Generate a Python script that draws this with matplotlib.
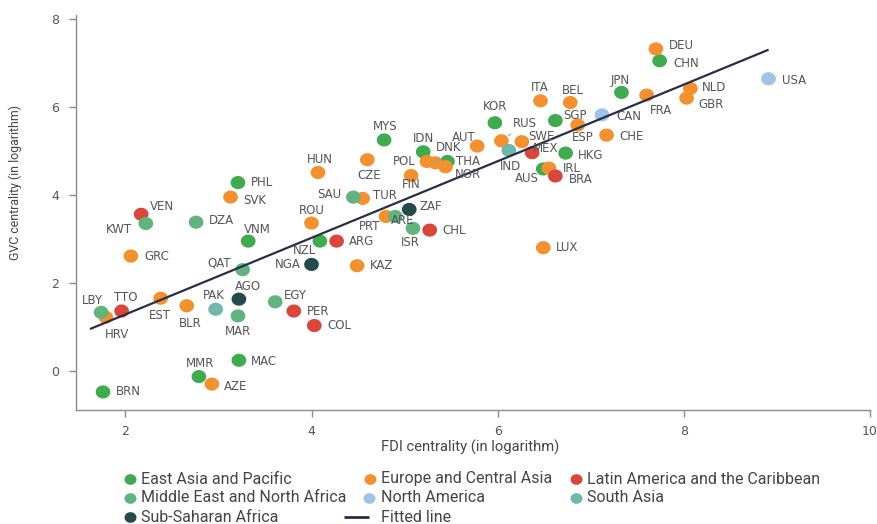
import numpy as np
import matplotlib
matplotlib.use("Agg")
import matplotlib.pyplot as plt
from matplotlib.lines import Line2D
from matplotlib.path import Path

# ---- data: FDI centrality (x) and GVC centrality (y), both in logarithm ----
regions = [
    "East Asia and Pacific",
    "Europe and Central Asia",
    "Latin America and the Caribbean",
    "Middle East and North Africa",
    "North America",
    "South Asia",
    "Sub-Saharan Africa",
]

eap_codes = ["CHN", "JPN", "KOR", "SGP", "HKG", "AUS", "MYS", "IDN", "THA", "PHL",
             "VNM", "NZL", "MMR", "MAC", "BRN"]
eap_fdi = [7.74, 7.33, 5.97, 6.62, 6.73, 6.49, 4.78, 5.20, 5.46, 3.21,
           3.32, 4.09, 2.79, 3.22, 1.76]
eap_gvc = [7.05, 6.33, 5.64, 5.69, 4.95, 4.59, 5.25, 4.98, 4.76, 4.28,
           2.95, 2.95, -0.13, 0.24, -0.48]

eca_codes = ["DEU", "NLD", "GBR", "FRA", "ITA", "BEL", "ESP", "CHE", "RUS", "SWE",
             "AUT", "DNK", "POL", "NOR", "IRL", "CZE", "FIN", "HUN", "SVK", "TUR",
             "ROU", "PRT", "GRC", "KAZ", "LUX", "EST", "BLR", "HRV", "AZE"]
eca_fdi = [7.70, 8.07, 8.03, 7.60, 6.46, 6.78, 6.86, 7.17, 6.04, 6.26,
           5.78, 5.33, 5.24, 5.44, 6.55, 4.60, 5.07, 4.07, 3.13, 4.55,
           4.00, 4.80, 2.06, 4.49, 6.49, 2.38, 2.66, 1.79, 2.93]
eca_gvc = [7.32, 6.42, 6.20, 6.27, 6.14, 6.10, 5.59, 5.36, 5.23, 5.21,
           5.11, 4.73, 4.76, 4.64, 4.61, 4.80, 4.44, 4.51, 3.95, 3.92,
           3.36, 3.51, 2.61, 2.39, 2.80, 1.65, 1.48, 1.22, -0.30]

lac_codes = ["MEX", "BRA", "VEN", "ARG", "CHL", "PER", "COL", "TTO"]
lac_fdi = [6.37, 6.62, 2.17, 4.27, 5.27, 3.81, 4.03, 1.96]
lac_gvc = [4.96, 4.43, 3.56, 2.95, 3.20, 1.36, 1.03, 1.36]

mena_codes = ["SAU", "KWT", "DZA", "QAT", "ARE", "ISR", "EGY", "MAR", "LBY"]
mena_fdi = [4.45, 2.22, 2.76, 3.26, 4.90, 5.09, 3.61, 3.21, 1.74]
mena_gvc = [3.95, 3.35, 3.38, 2.30, 3.51, 3.24, 1.57, 1.25, 1.33]

na_codes = ["USA", "CAN"]
na_fdi = [8.91, 7.12]
na_gvc = [6.64, 5.82]

sa_codes = ["IND", "PAK"]
sa_fdi = [6.12, 2.97]
sa_gvc = [5.01, 1.40]

ssa_codes = ["ZAF", "NGA", "AGO"]
ssa_fdi = [5.05, 4.00, 3.22]
ssa_gvc = [3.67, 2.42, 1.63]

# fitted OLS line
fit_slope = 0.871
fit_intercept = -0.46
fit_x_range = [1.62, 8.91]

x_ticks = [2, 4, 6, 8, 10]
y_ticks = [0, 2, 4, 6, 8]

# ---- styling ----
region_colors = ["#3fab4e", "#f39130", "#d8463c", "#62b47f", "#9fc4e6", "#6fb7ac", "#244a4a"]
label_color = "#555555"
line_color = "#2a2d47"
text_color = "#444444"

# slightly wide oval marker
_t = np.linspace(0, 2 * np.pi, 49)
oval = Path(np.column_stack([1.12 * np.cos(_t), np.sin(_t)]), closed=True)

# label placement (dx, dy in pixels from the marker, horizontal alignment)
label_pos = {
    "DEU": (13, 3, "left"), "CHN": (14, -3, "left"), "JPN": (-1, 12, "center"),
    "USA": (13, -2, "left"), "NLD": (12, 1, "left"), "GBR": (12, -6, "left"),
    "FRA": (3, -15, "left"), "ITA": (-1, 13, "center"), "BEL": (3, 12, "center"),
    "KOR": (0, 16, "center"), "SGP": (8, 5, "left"), "CAN": (14, -2, "left"),
    "ESP": (-6, -13, "left"), "CHE": (13, -1, "left"), "RUS": (11, 17, "left"),
    "SWE": (6, 5, "left"), "AUT": (-13, 9, "center"), "MYS": (1, 13, "center"),
    "IDN": (0, 13, "center"), "DNK": (1, 15, "left"), "POL": (-11, 0, "right"),
    "THA": (9, 0, "left"), "NOR": (9, -8, "left"), "CZE": (2, -16, "center"),
    "FIN": (0, -9, "center"), "HUN": (2, 13, "center"), "IND": (2, -16, "center"),
    "MEX": (1, 4, "left"), "HKG": (12, -2, "left"), "AUS": (-4, -10, "right"),
    "IRL": (14, 0, "left"), "BRA": (13, -4, "left"), "PHL": (13, 0, "left"),
    "SVK": (13, -3, "left"), "SAU": (-12, 3, "right"), "TUR": (10, 3, "left"),
    "VEN": (9, 8, "left"), "KWT": (-14, -6, "right"), "DZA": (13, 2, "left"),
    "ROU": (0, 13, "center"), "VNM": (-4, 12, "left"), "GRC": (13, 0, "left"),
    "NZL": (-4, -9, "right"), "ARG": (12, 0, "left"), "NGA": (-11, 0, "right"),
    "QAT": (-12, 7, "right"), "KAZ": (13, 0, "left"), "PRT": (-6, -10, "right"),
    "ARE": (-4, -4, "left"), "ZAF": (10, 3, "left"), "ISR": (-3, -14, "center"),
    "CHL": (13, 0, "left"), "LUX": (13, 0, "left"), "EGY": (9, 6, "left"),
    "AGO": (-4, 13, "left"), "PAK": (-2, 14, "center"), "MAR": (0, -16, "center"),
    "PER": (13, 0, "left"), "COL": (13, 0, "left"), "EST": (-1, -17, "center"),
    "BLR": (3, -18, "center"), "TTO": (4, 14, "center"), "LBY": (-9, 12, "center"),
    "HRV": (11, -17, "center"), "MMR": (1, 13, "center"), "AZE": (12, -2, "left"),
    "MAC": (12, -1, "left"), "BRN": (13, 0, "left"),
}
leader_lines = {"RUS", "DNK"}

groups = [
    (eap_codes, eap_fdi, eap_gvc),
    (eca_codes, eca_fdi, eca_gvc),
    (lac_codes, lac_fdi, lac_gvc),
    (mena_codes, mena_fdi, mena_gvc),
    (na_codes, na_fdi, na_gvc),
    (sa_codes, sa_fdi, sa_gvc),
    (ssa_codes, ssa_fdi, ssa_gvc),
]

plt.rcParams["font.family"] = ["DejaVu Sans"]
side_font = ["Roboto", "DejaVu Sans"]

fig = plt.figure(figsize=(8.77, 5.24), dpi=100)
W, H = 877, 524
ax = fig.add_axes([76 / W, 1 - 410 / H, (870 - 76) / W, (410 - 15) / H])

for (codes, xs, ys), name, col in zip(groups, regions, region_colors):
    ax.scatter(xs, ys, s=112, marker=oval, color=col, edgecolors="none", zorder=2, label=name)
    for code, xv, yv in zip(codes, xs, ys):
        dx, dy, ha = label_pos[code]
        kw = {}
        if code in leader_lines:
            kw["arrowprops"] = dict(arrowstyle="-", color="#8a9bb0", lw=0.7,
                                    shrinkA=1, shrinkB=6)
        ax.annotate(code, (xv, yv), xytext=(dx, dy), textcoords="offset pixels",
                    ha=ha, va="center", fontsize=8.5, color=label_color, zorder=4, **kw)

fit_y = [fit_intercept + fit_slope * v for v in fit_x_range]
ax.plot(fit_x_range, fit_y, color=line_color, lw=1.6, zorder=3,
        solid_capstyle="butt", label="Fitted line")

ax.set_xlim(1.47, 10.0)
ax.set_ylim(-0.89, 8.09)
ax.set_xticks(x_ticks)
ax.set_yticks(y_ticks)
for s in ["top", "right"]:
    ax.spines[s].set_visible(False)
for s in ["left", "bottom"]:
    ax.spines[s].set_color("#8c8c8c")
    ax.spines[s].set_linewidth(1.0)
ax.tick_params(axis="both", colors="#8c8c8c", length=5, width=1.0,
               labelcolor="#555555", labelsize=9)
ax.tick_params(axis="y", pad=7)
ax.tick_params(axis="x", pad=6)

renderer = fig.canvas.get_renderer()


def fit_text(txt, target_px):
    """Resize a text so that its long side spans target_px pixels."""
    bb = txt.get_window_extent(renderer)
    span = max(bb.width, bb.height)
    txt.set_fontsize(txt.get_fontsize() * target_px / span)


xl = fig.text(470 / W, 1 - 447 / H, "FDI centrality (in logarithm)", ha="center", va="center",
              fontsize=10, color=text_color, family=side_font)
yl = fig.text(15 / W, 1 - 182 / H, "GVC centrality (in logarithm)", ha="center", va="center",
              rotation=90, fontsize=10, color=text_color, family=side_font)
fit_text(xl, 178)
fit_text(yl, 156)

# legend: three columns below the plot
legend_rows = [479, 498, 517]
legend_items = [
    # (kind, colour, marker x, text x, row, text)
    ("dot", region_colors[0], 130, 141, 0, regions[0]),
    ("dot", region_colors[1], 370, 381, 0, regions[1]),
    ("dot", region_colors[2], 576, 587, 0, regions[2]),
    ("dot", region_colors[3], 130, 141, 1, regions[3]),
    ("dot", region_colors[4], 369, 381, 1, regions[4]),
    ("dot", region_colors[5], 576, 587, 1, regions[5]),
    ("dot", region_colors[6], 130, 141, 2, regions[6]),
    ("line", line_color, 356, 381, 2, "Fitted line"),
]
leg_texts = []
for kind, col, mx, tx, row, lab in legend_items:
    yf = 1 - legend_rows[row] / H
    if kind == "dot":
        fig.add_artist(Line2D([mx / W], [yf], marker=oval, markersize=8.6, color=col,
                              markeredgewidth=0, linestyle="none", transform=fig.transFigure))
    else:
        fig.add_artist(Line2D([(mx - 12) / W, (mx + 13) / W], [yf, yf], color=col, lw=2.0,
                              transform=fig.transFigure, solid_capstyle="butt"))
    leg_texts.append(fig.text(tx / W, yf, lab, ha="left", va="center", fontsize=11,
                              color=text_color, family=side_font))
fit_text(leg_texts[0], 149)
for t in leg_texts[1:]:
    t.set_fontsize(leg_texts[0].get_fontsize())

fig.savefig("out.png", dpi=100)
